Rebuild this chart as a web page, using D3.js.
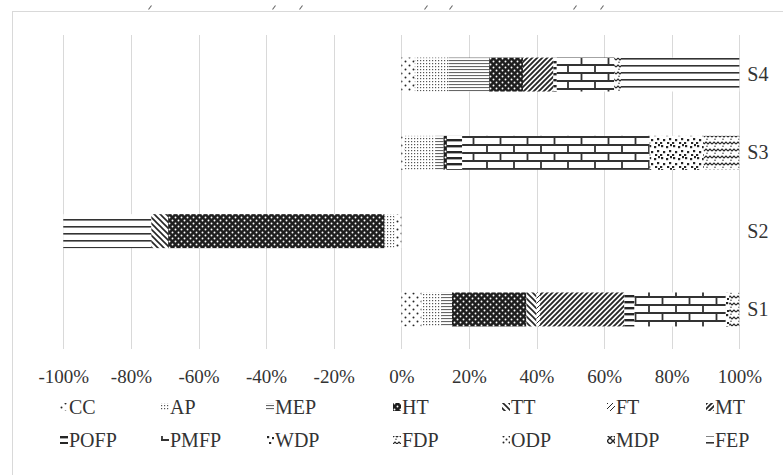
<!DOCTYPE html>
<html>
<head>
<meta charset="utf-8">
<script src="https://cdn.jsdelivr.net/npm/d3@7"></script>
<style>
  html, body { margin: 0; padding: 0; background: #fff; }
  svg { display: block; }
  text { font-family: "Liberation Serif", "Times New Roman", serif; fill: #333; }
</style>
</head>
<body>
<svg id="chart" width="783" height="475"></svg>
<script>
// Categories (bottom to top) and share of each component per scenario (%)
const categories = ["S1", "S2", "S3", "S4"];
const seriesNames = ["CC", "AP", "MEP", "HT", "TT", "FT", "MT", "POFP", "PMFP", "WDP", "FDP", "ODP", "MDP", "FEP"];

const CC   = [6,   -2,  1,    4];
const AP   = [6,   -3,  9,    10];
const MEP  = [3,    0,  2.5,  12];
const HT   = [22, -64,  1,    10];
const TT   = [3,   -5,  0,    0];
const FT   = [1,    0,  0,    0];
const MT   = [25,   0,  0,    9];
const POFP = [3,    0,  4.5,  1];
const PMFP = [27,   0,  55.5, 17];
const WDP  = [1,    0,  16,   0];
const FDP  = [3,    0,  10.5, 2];
const ODP  = [0,    0,  0,    0];
const MDP  = [0,    0,  0,    0];
const FEP  = [0,  -26,  0,    35];

const tickValues = [-100, -80, -60, -40, -20, 0, 20, 40, 60, 80, 100];

const seriesValues = { CC, AP, MEP, HT, TT, FT, MT, POFP, PMFP, WDP, FDP, ODP, MDP, FEP };

// rows for d3.stack
const rows = categories.map((c, i) => {
  const r = { category: c };
  seriesNames.forEach(s => { r[s] = seriesValues[s][i]; });
  return r;
});

const svg = d3.select("#chart");
const defs = svg.append("defs");

// ---- fill patterns (monochrome, Excel-like) ----
const ink = "#262626";
function pattern(id, w, h, draw) {
  const p = defs.append("pattern")
    .attr("id", id)
    .attr("patternUnits", "userSpaceOnUse")
    .attr("width", w).attr("height", h);
  p.append("rect").attr("width", w).attr("height", h).attr("fill", "#fff");
  draw(p);
}
pattern("p-CC", 8, 8, p => {
  p.append("circle").attr("cx", 1.5).attr("cy", 1.5).attr("r", 1).attr("fill", ink);
  p.append("circle").attr("cx", 5.5).attr("cy", 5.5).attr("r", 1).attr("fill", ink);
});
pattern("p-AP", 3, 3, p => {
  p.append("rect").attr("x", 0).attr("y", 0).attr("width", 1.2).attr("height", 1.2).attr("fill", "#555");
});
pattern("p-MEP", 4, 3, p => {
  p.append("rect").attr("x", 0).attr("y", 0).attr("width", 4).attr("height", 1.1).attr("fill", "#666");
});
pattern("p-HT", 6, 6, p => {
  p.select("rect").attr("fill", "#1e1e1e");
  p.append("circle").attr("cx", 1.5).attr("cy", 1.5).attr("r", 0.95).attr("fill", "#fff");
  p.append("circle").attr("cx", 4.5).attr("cy", 4.5).attr("r", 0.95).attr("fill", "#fff");
});
pattern("p-TT", 6, 6, p => {
  p.append("path").attr("d", "M0,0L6,6M-1,5L1,7M5,-1L7,1")
    .attr("stroke", ink).attr("stroke-width", 1.6);
});
pattern("p-FT", 5, 5, p => {
  p.append("path").attr("d", "M0,5L5,0M-1,1L1,-1M4,6L6,4")
    .attr("stroke", ink).attr("stroke-width", 1);
});
pattern("p-MT", 5, 5, p => {
  p.append("path").attr("d", "M0,5L5,0M-1,1L1,-1M4,6L6,4")
    .attr("stroke", ink).attr("stroke-width", 1.9);
});
pattern("p-POFP", 6, 6, p => {
  p.append("rect").attr("x", 0).attr("y", 1).attr("width", 6).attr("height", 2.4).attr("fill", ink);
});
pattern("p-PMFP", 27, 16, p => {
  p.append("path")
    .attr("d", "M0,1H27M0,9H27M1,1V9M14.5,9V17M14.5,-7V1")
    .attr("stroke", "#333").attr("stroke-width", 1.8).attr("fill", "none");
});
pattern("p-WDP", 12, 12, p => {
  [[1, 1], [6, 2], [9, 6], [3, 7], [7, 10], [0, 10], [10, 0]].forEach(([x, y]) => {
    p.append("rect").attr("x", x).attr("y", y).attr("width", 2.2).attr("height", 2.2).attr("fill", ink);
  });
});
pattern("p-FDP", 8, 7, p => {
  p.append("path").attr("d", "M0,4L2,2L4,4L6,2L8,4")
    .attr("stroke", ink).attr("stroke-width", 1.2).attr("fill", "none");
  p.append("circle").attr("cx", 3).attr("cy", 6.3).attr("r", 0.7).attr("fill", ink);
});
pattern("p-ODP", 6, 6, p => {
  p.append("circle").attr("cx", 1.5).attr("cy", 1.5).attr("r", 1).attr("fill", ink);
  p.append("circle").attr("cx", 4.5).attr("cy", 4.5).attr("r", 1).attr("fill", ink);
});
pattern("p-MDP", 6, 6, p => {
  p.append("path").attr("d", "M0,0L6,6M6,0L0,6")
    .attr("stroke", ink).attr("stroke-width", 1.4);
});
pattern("p-FEP", 8, 7, p => {
  p.append("rect").attr("x", 0).attr("y", 2).attr("width", 8).attr("height", 1.6).attr("fill", "#333");
});

// ---- chart frame ----
svg.append("rect")
  .attr("x", 12.5).attr("y", 11.5)
  .attr("width", 800).attr("height", 500)
  .attr("fill", "none").attr("stroke", "#d9d9d9");

// small marks along the top edge
svg.append("g").selectAll("path")
  .data([150, 274, 301, 426, 451, 575, 602])
  .join("path")
  .attr("d", d => `M${d - 1.5},9.5L${d + 1.5},5.5`)
  .attr("stroke", "#666").attr("stroke-width", 1.1);

// ---- scales ----
const plotTop = 35, plotBottom = 349;
const x = d3.scaleLinear().domain([-100, 100]).range([63.3, 739.3]);
const y = d3.scaleBand()
  .domain(categories.slice().reverse())
  .range([plotTop, plotBottom])
  .paddingInner(0.566)
  .paddingOuter(0.288);

// gridlines
svg.append("g").selectAll("line")
  .data(tickValues)
  .join("line")
  .attr("x1", d => Math.round(x(d)) + 0.5)
  .attr("x2", d => Math.round(x(d)) + 0.5)
  .attr("y1", plotTop).attr("y2", plotBottom)
  .attr("stroke", "#d9d9d9").attr("stroke-width", 1);

// ---- stacked bars ----
const stack = d3.stack()
  .keys(seriesNames)
  .offset(d3.stackOffsetDiverging);
const layers = stack(rows);

svg.append("g").selectAll("g")
  .data(layers)
  .join("g")
  .attr("fill", d => `url(#p-${d.key})`)
  .selectAll("rect")
  .data(d => d.filter(s => s[1] !== s[0]))
  .join("rect")
  .attr("x", d => x(Math.min(d[0], d[1])))
  .attr("width", d => Math.abs(x(d[1]) - x(d[0])))
  .attr("y", d => y(d.data.category))
  .attr("height", y.bandwidth());

// ---- x axis labels ----
const xAxis = d3.axisBottom(x)
  .tickValues(tickValues)
  .tickSize(0)
  .tickPadding(0)
  .tickFormat(d => d + "%");
const gx = svg.append("g")
  .attr("transform", `translate(0,${plotBottom + 20})`)
  .call(xAxis);
gx.select(".domain").remove();
gx.selectAll("text")
  .attr("font-size", 19);

// ---- category labels (right side) ----
const yAxis = d3.axisRight(y).tickSize(0).tickPadding(0);
const gy = svg.append("g")
  .attr("transform", `translate(${x(100) + 8},0)`)
  .call(yAxis);
gy.select(".domain").remove();
gy.selectAll("text")
  .attr("font-size", 20);

// ---- legend: two rows of seven ----
const legendCols = [60, 161, 266, 393, 502, 607, 706];
const legendRows = [414, 447];
const legend = svg.append("g").selectAll("g")
  .data(seriesNames)
  .join("g")
  .attr("transform", (d, i) => `translate(${legendCols[i % 7]},${legendRows[Math.floor(i / 7)]})`);
legend.append("rect")
  .attr("x", 0).attr("y", -11)
  .attr("width", 8).attr("height", 8)
  .attr("fill", d => `url(#p-${d})`);
legend.append("text")
  .attr("x", 9).attr("y", 0)
  .attr("font-size", 20)
  .text(d => d);
</script>
</body>
</html>
